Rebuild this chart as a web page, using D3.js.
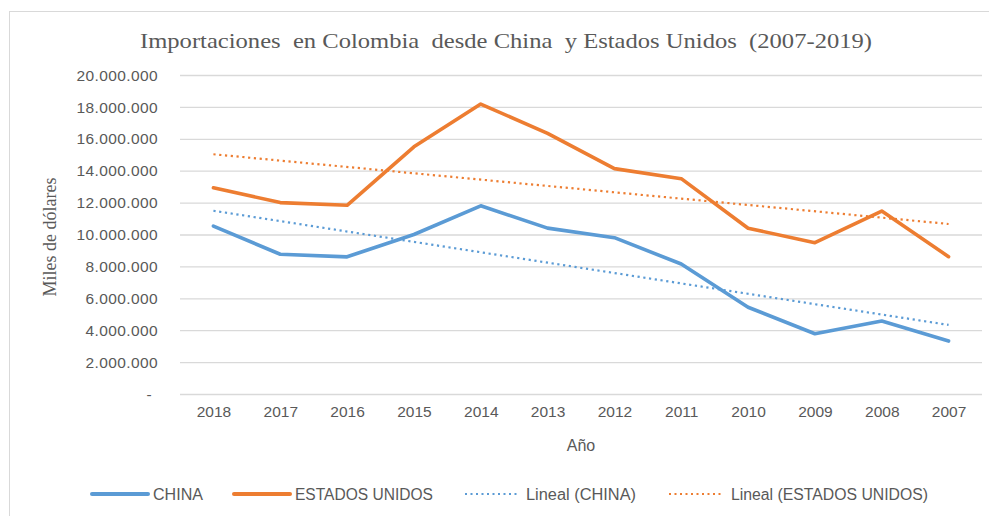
<!DOCTYPE html>
<html>
<head>
<meta charset="utf-8">
<script src="https://cdn.jsdelivr.net/npm/d3@7"></script>
<style>
  html, body { margin: 0; padding: 0; background: #fff; }
  svg { display: block; }
</style>
</head>
<body>
<svg id="chart" width="989" height="516"></svg>
<script>
// ---- Data ----
const years = ["2018","2017","2016","2015","2014","2013","2012","2011","2010","2009","2008","2007"];
const china = [10530000, 8760000, 8600000, 10000000, 11800000, 10400000, 9800000, 8150000, 5440000, 3780000, 4580000, 3320000];
const usa   = [12930000, 12000000, 11830000, 15500000, 18180000, 16340000, 14130000, 13500000, 10390000, 9490000, 11470000, 8610000];
// Linear trend lines: endpoint values read at 2018 and 2007
const trendYears = ["2018", "2007"];
const trendChina = [11490000, 4330000];
const trendUsa   = [15030000, 10660000];
const yTicks = [0, 2000000, 4000000, 6000000, 8000000, 10000000, 12000000, 14000000, 16000000, 18000000, 20000000];

const title = "Importaciones  en Colombia  desde China  y Estados Unidos  (2007-2019)";
const yTitle = "Miles de dólares";
const xTitle = "Año";
const legendItems = [
  { label: "CHINA", color: "#5B9BD5", dotted: false },
  { label: "ESTADOS UNIDOS", color: "#ED7D31", dotted: false },
  { label: "Lineal (CHINA)", color: "#5B9BD5", dotted: true },
  { label: "Lineal (ESTADOS UNIDOS)", color: "#ED7D31", dotted: true }
];

// ---- Layout ----
const svg = d3.select("#chart");
const plot = { left: 180, right: 982, top: 75, bottom: 394 };
const textColor = "#595959";
const sansFont = "'Liberation Sans', Arial, sans-serif";
const serifFont = "'Liberation Serif', 'Times New Roman', serif";

const x = d3.scalePoint().domain(years).range([plot.left, plot.right]).padding(0.5);
const y = d3.scaleLinear().domain([0, 20000000]).range([plot.bottom, plot.top]);

// Chart border
svg.append("rect")
  .attr("x", 9.5).attr("y", 11.5)
  .attr("width", 1000).attr("height", 520)
  .attr("fill", "none").attr("stroke", "#D9D9D9").attr("stroke-width", 1);

// Title
svg.append("text")
  .attr("x", 140).attr("y", 48)
  .attr("textLength", 732).attr("lengthAdjust", "spacingAndGlyphs")
  .attr("font-family", serifFont).attr("font-size", 22)
  .attr("fill", textColor)
  .attr("xml:space", "preserve")
  .text(title);

// Gridlines + y axis labels
const fmt = v => v === 0 ? "-" : d3.format(",")(v).replace(/,/g, ".");
const yAxis = d3.axisLeft(y).tickValues(yTicks).tickSize(-(plot.right - plot.left)).tickFormat(fmt).tickPadding(22);
const yg = svg.append("g").attr("transform", `translate(${plot.left},0)`).call(yAxis);
yg.select(".domain").remove();
yg.selectAll(".tick line").attr("stroke", "#D9D9D9").attr("stroke-width", 1.3);
yg.selectAll(".tick text")
  .attr("fill", textColor).attr("font-family", sansFont).attr("font-size", 15.5)
  .attr("letter-spacing", 0.4)
  .attr("dx", d => d === 0 ? -6 : 0)
  .attr("dy", "0.33em");

// x axis labels
const xAxis = d3.axisBottom(x).tickSize(0).tickPadding(12);
const xg = svg.append("g").attr("transform", `translate(0,${plot.bottom})`).call(xAxis);
xg.select(".domain").remove();
xg.selectAll(".tick text")
  .attr("fill", textColor).attr("font-family", sansFont).attr("font-size", 15.5)
  .attr("dy", "0.71em");

// Axis titles
svg.append("text")
  .attr("transform", "translate(56,237) rotate(-90)")
  .attr("text-anchor", "middle")
  .attr("font-family", serifFont).attr("font-size", 18)
  .attr("fill", textColor)
  .text(yTitle);
svg.append("text")
  .attr("x", 581).attr("y", 451)
  .attr("text-anchor", "middle")
  .attr("font-family", sansFont).attr("font-size", 16)
  .attr("fill", textColor)
  .text(xTitle);

// Trend lines
const trendLine = d3.line().x(d => x(d[0])).y(d => y(d[1]));
[[trendChina, "#5B9BD5"], [trendUsa, "#ED7D31"]].forEach(([vals, color]) => {
  svg.append("path")
    .datum(trendYears.map((yr, i) => [yr, vals[i]]))
    .attr("d", trendLine)
    .attr("fill", "none").attr("stroke", color)
    .attr("stroke-width", 2.2).attr("stroke-dasharray", "2.2,3.6");
});

// Series lines
const line = d3.line().x((d, i) => x(years[i])).y(d => y(d));
[[china, "#5B9BD5"], [usa, "#ED7D31"]].forEach(([vals, color]) => {
  svg.append("path")
    .datum(vals)
    .attr("d", line)
    .attr("fill", "none").attr("stroke", color)
    .attr("stroke-width", 3.6).attr("stroke-linejoin", "round").attr("stroke-linecap", "round");
});

// Legend
const legendPos = [
  { x1: 92, x2: 148, tx: 153 },
  { x1: 234, x2: 290, tx: 295 },
  { x1: 465, x2: 520, tx: 526 },
  { x1: 669, x2: 724, tx: 731 }
];
const legendWidths = [50, 138, 110, 197];
const lg = svg.append("g");
legendItems.forEach((item, i) => {
  const p = legendPos[i];
  lg.append("line")
    .attr("x1", p.x1).attr("x2", p.x2).attr("y1", 494).attr("y2", 494)
    .attr("stroke", item.color)
    .attr("stroke-width", item.dotted ? 2 : 4)
    .attr("stroke-linecap", item.dotted ? "butt" : "round")
    .attr("stroke-dasharray", item.dotted ? "2,3.5" : null);
  lg.append("text")
    .attr("x", p.tx).attr("y", 494).attr("dy", "0.35em")
    .attr("textLength", legendWidths[i]).attr("lengthAdjust", "spacingAndGlyphs")
    .attr("font-family", sansFont).attr("font-size", 16)
    .attr("fill", textColor)
    .text(item.label);
});
</script>
</body>
</html>
